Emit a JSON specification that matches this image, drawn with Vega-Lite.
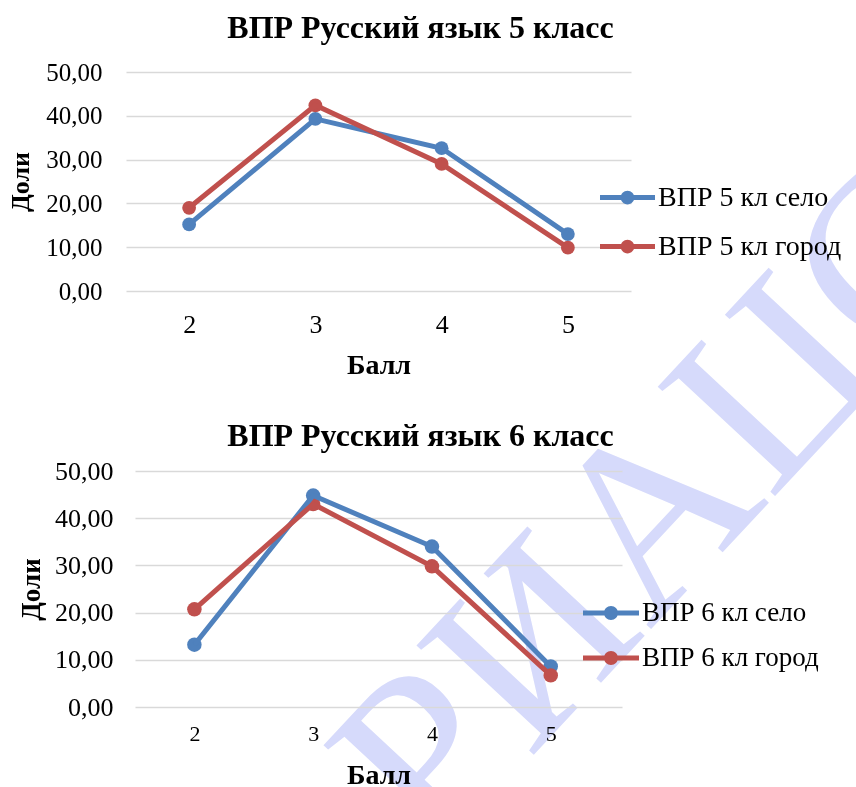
{
  "$schema": "https://vega.github.io/schema/vega-lite/v6.json",
  "padding": {"top": 12, "left": 7, "right": 0, "bottom": 0},
  "background": "white",
  "datasets": {
    "g5": [
      {"ball": 2, "series": "ВПР 5 кл село", "value": 15.2},
      {"ball": 3, "series": "ВПР 5 кл село", "value": 39.3},
      {"ball": 4, "series": "ВПР 5 кл село", "value": 32.6},
      {"ball": 5, "series": "ВПР 5 кл село", "value": 13.0},
      {"ball": 2, "series": "ВПР 5 кл город", "value": 19.0},
      {"ball": 3, "series": "ВПР 5 кл город", "value": 42.4},
      {"ball": 4, "series": "ВПР 5 кл город", "value": 29.0},
      {"ball": 5, "series": "ВПР 5 кл город", "value": 9.9}
    ],
    "g6": [
      {"ball": 2, "series": "ВПР 6 кл село", "value": 13.2},
      {"ball": 3, "series": "ВПР 6 кл село", "value": 44.8},
      {"ball": 4, "series": "ВПР 6 кл село", "value": 34.0},
      {"ball": 5, "series": "ВПР 6 кл село", "value": 8.6},
      {"ball": 2, "series": "ВПР 6 кл город", "value": 20.7},
      {"ball": 3, "series": "ВПР 6 кл город", "value": 43.0},
      {"ball": 4, "series": "ВПР 6 кл город", "value": 29.8},
      {"ball": 5, "series": "ВПР 6 кл город", "value": 6.7}
    ],
    "wm": [{"label": "РИАЦС"}]
  },
  "bounds": "flush",
  "center": true,
  "spacing": 180,
  "resolve": {"scale": {"color": "independent"}, "legend": {"color": "independent"}},
  "vconcat": [
    {
      "width": 505,
      "height": 219,
      "title": {"text": "ВПР Русский язык 5 класс", "fontSize": 32, "dx": 42, "offset": 15},
      "layer": [
        {
          "data": {"name": "g5"},
          "encoding": {
            "x": {"field": "ball", "type": "quantitative", "scale": {"domain": [1.5, 5.5], "nice": false, "zero": false},
              "axis": {"values": [2, 3, 4, 5], "format": "d", "grid": false, "domain": false, "ticks": false, "title": "Балл", "labelFontSize": 26, "titleFontSize": 28, "labelPadding": 20, "titlePadding": 14}},
            "y": {"field": "value", "type": "quantitative", "scale": {"domain": [0, 50], "nice": false},
              "axis": {"values": [0, 10, 20, 30, 40, 50], "labelExpr": "replace(format(datum.value, '.2f'), '.', ',')", "title": "Доли", "domain": false, "ticks": false, "labelFontSize": 25, "titleFontSize": 26, "labelPadding": 24, "titlePadding": 12}},
            "color": {"field": "series", "type": "nominal", "scale": {"domain": ["ВПР 5 кл село", "ВПР 5 кл город"], "range": ["#4F81BD", "#C0504D"]},
              "legend": {"orient": "none", "legendX": 474, "legendY": 98, "title": null, "labelFontSize": 28, "labelOffset": 3, "rowPadding": 7,
                "symbolType": "M-1,-0.09L1,-0.09L1,0.09L-1,0.09Z M-0.25,0A0.25,0.25 0 1,1 0.25,0A0.25,0.25 0 1,1 -0.25,0Z",
                "symbolSize": 3025, "symbolStrokeWidth": 0, "symbolOpacity": 1}}
          },
          "layer": [
            {"mark": {"type": "circle", "size": 190, "opacity": 1}},
            {"mark": {"type": "line", "strokeWidth": 5}}
          ]
        },
        {
          "data": {"name": "wm"},
          "mark": {"type": "text", "font": "Liberation Serif", "fontSize": 245, "angle": -47, "align": "center", "baseline": "middle", "fill": "#D6DAFB", "blend": "multiply"},
          "encoding": {
            "x": {"datum": 5.77, "type": "quantitative"},
            "y": {"datum": -49, "type": "quantitative"},
            "text": {"field": "label", "type": "nominal"}
          }
        }
      ]
    },
    {
      "width": 487,
      "height": 236,
      "title": {"text": "ВПР Русский язык 6 класс", "fontSize": 32, "dx": 42, "offset": 5},
      "data": {"name": "g6"},
      "encoding": {
        "x": {"field": "ball", "type": "quantitative", "scale": {"domain": [1.5, 5.6], "nice": false, "zero": false},
          "axis": {"values": [2, 3, 4, 5], "format": "d", "grid": false, "domain": false, "ticks": false, "title": "Балл", "labelFontSize": 22, "titleFontSize": 28, "labelPadding": 16, "titlePadding": 17}},
        "y": {"field": "value", "type": "quantitative", "scale": {"domain": [0, 50], "nice": false},
          "axis": {"values": [0, 10, 20, 30, 40, 50], "labelExpr": "replace(format(datum.value, '.2f'), '.', ',')", "title": "Доли", "domain": false, "ticks": false, "labelFontSize": 26, "titleFontSize": 27, "labelPadding": 22, "titlePadding": 9}},
        "color": {"field": "series", "type": "nominal", "scale": {"domain": ["ВПР 6 кл село", "ВПР 6 кл город"], "range": ["#4F81BD", "#C0504D"]},
          "legend": {"orient": "none", "legendX": 448, "legendY": 114, "title": null, "labelFontSize": 27, "labelOffset": 3, "rowPadding": 4,
            "symbolType": "M-1,-0.09L1,-0.09L1,0.09L-1,0.09Z M-0.25,0A0.25,0.25 0 1,1 0.25,0A0.25,0.25 0 1,1 -0.25,0Z",
            "symbolSize": 3136, "symbolStrokeWidth": 0, "symbolOpacity": 1}}
      },
      "layer": [
        {"mark": {"type": "circle", "size": 210, "opacity": 1}},
        {"mark": {"type": "line", "strokeWidth": 5}}
      ]
    }
  ],
  "config": {
    "font": "Liberation Serif",
    "view": {"stroke": null},
    "text": {"font": "Liberation Serif"},
    "axis": {"labelColor": "#000000", "titleColor": "#000000", "titleFontWeight": "bold", "gridColor": "#D9D9D9", "gridWidth": 1.5, "labelFont": "Liberation Serif", "titleFont": "Liberation Serif"},
    "legend": {"labelColor": "#000000", "labelFont": "Liberation Serif", "labelLimit": 400},
    "title": {"font": "Liberation Serif", "fontWeight": "bold", "color": "#000000", "anchor": "middle", "frame": "group"}
  }
}
